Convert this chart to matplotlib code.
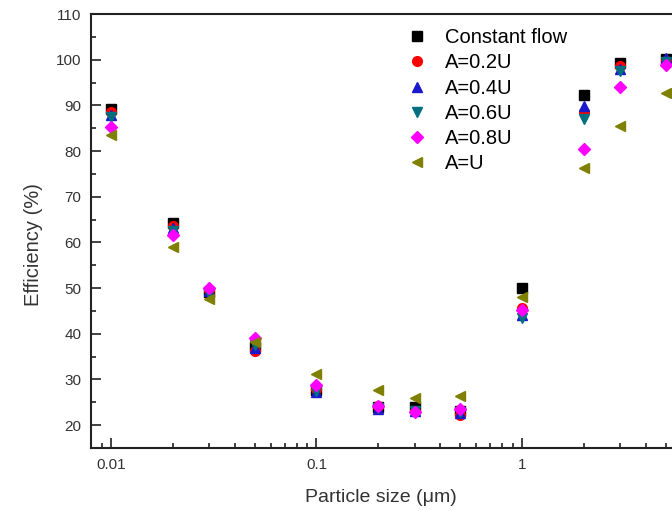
import matplotlib
matplotlib.use("Agg")
import matplotlib.pyplot as plt

plt.rcParams['font.family'] = ['Liberation Sans', 'DejaVu Sans']

# particle sizes (um)
sizes = [0.01, 0.02, 0.03, 0.05, 0.1, 0.2, 0.3, 0.5, 1, 2, 3, 5]

# collection efficiency (%) for each flow case
constant_flow = [89.2, 64.2, 49.2, 37.0, 27.7, 24.0, 24.0, 23.0, 50.0, 92.3, 99.3, 100.2]
a_02u = [88.6, 63.6, 49.5, 36.3, 28.0, 24.2, 23.0, 22.2, 45.6, 88.5, 98.6, 99.8]
a_04u = [87.8, 63.2, 49.3, 36.9, 27.3, 23.5, 23.0, 22.6, 44.1, 89.8, 98.0, 100.4]
a_06u = [87.4, 62.5, 49.0, 37.6, 27.5, 23.8, 23.2, 22.9, 43.4, 87.0, 97.6, 99.6]
a_08u = [85.3, 61.7, 50.0, 39.0, 28.8, 24.3, 22.9, 23.5, 45.2, 80.5, 94.1, 98.8]
a_u = [83.6, 59.1, 47.6, 38.2, 31.3, 27.7, 25.9, 26.4, 48.1, 76.2, 85.4, 92.8]

series = [
    ("Constant flow", constant_flow, 's', '#000000'),
    ("A=0.2U", a_02u, 'o', '#ff0000'),
    ("A=0.4U", a_04u, '^', '#1a1acc'),
    ("A=0.6U", a_06u, 'v', '#007080'),
    ("A=0.8U", a_08u, 'D', '#ff00ff'),
    ("A=U", a_u, '<', '#808000'),
]

fig = plt.figure(figsize=(6.72, 5.11), dpi=100)
# the original figure is cut off on the right, so the axes run past the edge
ax = fig.add_axes([0.1354, 0.1233, 0.9473, 0.8493])

for label, vals, mk, col in series:
    size = 6 if mk == 'D' else 7
    ax.plot(sizes, vals, linestyle='none', marker=mk, markersize=size,
            color=col, markeredgecolor=col, label=label)

ax.set_xscale('log')
ax.set_xlim(0.008, 10)
ax.set_ylim(15, 110)
ax.set_yticks(range(20, 111, 10))
ax.set_yticks(range(15, 111, 5), minor=True)
ax.set_xticks([0.01, 0.1, 1])
ax.set_xticklabels(['0.01', '0.1', '1'])

ax.tick_params(which='both', direction='in', colors='#333333', labelsize=11,
               width=1.3, pad=7)
ax.tick_params(which='major', length=7)
ax.tick_params(which='minor', length=3.5)
for sp in ax.spines.values():
    sp.set_linewidth(1.5)
    sp.set_color('#222222')

ax.set_ylabel("Efficiency (%)", fontsize=14.5, color='#333333')
ax.yaxis.set_label_coords(-0.0754, 0.469)
ax.set_xlabel("Particle size (\u03bcm)", fontsize=14, color='#333333')
ax.xaxis.set_label_coords(0.4548, -0.094)

ax.legend(loc='upper left', bbox_to_anchor=(0.599, 0.9448),
          bbox_transform=fig.transFigure, frameon=False, fontsize=14.5,
          numpoints=1, borderpad=0, borderaxespad=0, labelspacing=0.31,
          handlelength=1.4, handletextpad=0.71)

fig.savefig("out.png", dpi=100)
